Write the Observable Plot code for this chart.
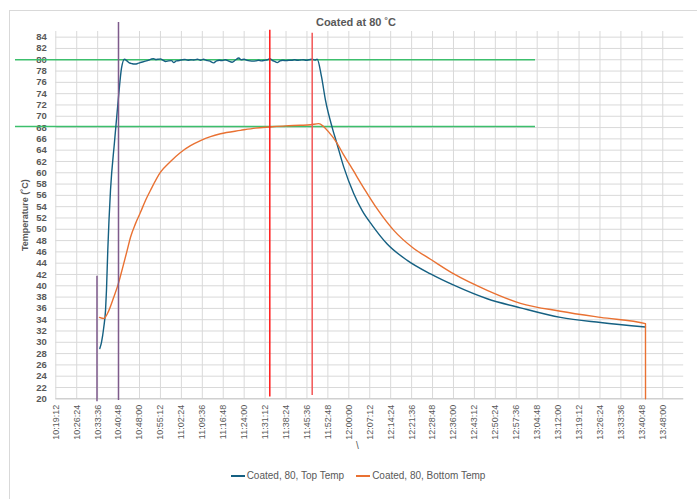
<!DOCTYPE html>
<html>
<head>
<meta charset="utf-8">
<script src="https://cdn.jsdelivr.net/npm/d3@7"></script>
<script src="https://cdn.jsdelivr.net/npm/@observablehq/plot@0.6"></script>
<style>
  html, body { margin: 0; padding: 0; background: #fff; }
  #chart { position: relative; width: 697px; height: 499px; overflow: hidden; font-family: "Liberation Sans", Arial, sans-serif; color: #595959; }
  #frame { position: absolute; left: 9px; top: 10px; width: 720px; height: 520px; border-left: 1px solid #d9d9d9; border-top: 1px solid #d9d9d9; }
  #title { position: absolute; left: 0; width: 712px; top: 16px; text-align: center; font-size: 11px; font-weight: bold; color: #595959; }
  #xlabel { position: absolute; left: 356px; top: 440px; font-size: 10px; color: #595959; }
  #legend { position: absolute; left: 0; top: 470px; width: 716px; text-align: center; font-size: 10px; color: #595959; font-family: "Liberation Sans Narrow", "Liberation Sans", Arial, sans-serif; }
  #legend span.item { display: inline-block; margin: 0 6px; }
  #legend span.sw { display: inline-block; width: 14px; height: 2px; vertical-align: middle; margin-right: 2px; }
  #plot { position: absolute; left: 0; top: 0; }
  #plot svg g[aria-label="y-axis tick label"] text { font-weight: bold; font-size: 9.5px; }
  #plot svg g[aria-label="y-axis label"] text { font-weight: bold; font-size: 9px; }
</style>
</head>
<body>
<div id="chart">
  <div id="frame"></div>
  <div id="plot"></div>
  <div id="title">Coated at 80 ˚C</div>
  <div id="xlabel">\</div>
  <div id="legend"></div>
</div>
<script>
// ---- Data ----
const seriesNames = ["Coated, 80, Top Temp", "Coated, 80, Bottom Temp"];
const seriesColors = ["#156082", "#E97132"];

const topTimes = [
  "10:34:20","10:34:55","10:35:43","10:36:18","10:36:38","10:37:05","10:38:01","10:39:24","10:40:46","10:41:48",
  "10:42:50","10:43:40","10:44:30","10:45:30","10:46:20","10:47:12","10:48:00","10:49:00","10:50:00","10:51:00",
  "10:52:00","10:52:49","10:53:40","10:54:30","10:55:13","10:56:00","10:57:00","10:58:00","10:59:00","10:59:48",
  "11:00:40","11:01:40","11:02:40","11:03:40","11:04:40","11:05:40","11:06:40","11:07:57","11:09:00","11:10:01",
  "11:11:00","11:12:00","11:13:33","11:14:30","11:15:30","11:16:30","11:17:30","11:18:30","11:19:53","11:21:00",
  "11:22:09","11:23:00","11:24:00","11:25:00","11:26:00","11:27:00","11:28:00","11:29:00","11:30:00","11:31:00",
  "11:32:00","11:32:49","11:33:40","11:34:30","11:35:22","11:36:20","11:37:20","11:38:20","11:39:20","11:40:20",
  "11:41:20","11:42:20","11:43:20","11:44:20","11:45:20","11:46:20","11:47:24","11:48:20","11:49:07",
  "11:50:36","11:51:59","11:54:17","11:55:46","11:58:16","12:01:43","12:04:36","12:08:03","12:13:12","12:20:05",
  "12:28:06","12:36:07","12:47:36","12:59:03","13:12:49","13:26:35","13:42:03"
];
const topValues = [
  28.9, 30.0, 32.7, 35.6, 39.2, 46.3, 56.9, 65.5, 73.4, 78.5,
  80.1, 79.8, 79.45, 79.3, 79.25, 79.3, 79.45, 79.6, 79.75, 79.9,
  80.1, 80.2, 80.05, 80.1, 80.15, 79.95, 79.7, 79.8, 79.85, 79.5,
  79.8, 79.85, 80.0, 80.05, 79.9, 80.0, 79.95, 80.1, 79.9, 80.1,
  79.9, 79.8, 79.45, 79.8, 79.9, 79.85, 80.0, 79.8, 79.55, 79.95,
  80.3, 80.0, 80.1, 79.9, 79.8, 79.75, 79.8, 79.9, 79.8, 79.9,
  80.0, 80.2, 79.9, 79.7, 79.5, 79.8, 79.9, 79.85, 79.9, 79.9,
  80.0, 79.9, 79.95, 80.0, 79.9, 80.0, 80.1, 79.95, 80.1,
  77.0, 72.8, 68.0, 65.4, 61.0, 56.3, 53.3, 50.7, 47.4, 44.5,
  42.1, 40.1, 37.7, 36.1, 34.4, 33.5, 32.7
];

const bottomTimes = [
  "10:34:14","10:35:43","10:37:26","10:39:09","10:40:40","10:42:15","10:43:46","10:44:54","10:46:37","10:48:20",
  "10:50:03","10:51:47","10:55:13","10:58:39","11:02:06","11:05:32","11:08:59","11:12:25","11:15:51","11:22:44",
  "11:27:54","11:32:43","11:38:13","11:43:23","11:46:49","11:49:40","11:51:17","11:53:07","11:55:46","11:58:10",
  "12:00:35","12:05:09","12:09:46","12:15:28","12:22:21","12:28:06","12:36:07","12:47:36","12:59:03","13:12:49",
  "13:26:35","13:42:03","13:42:04"
];
const bottomValues = [
  34.4, 34.2, 35.6, 38.0, 40.3, 43.3, 46.3, 48.6, 51.0, 53.0,
  55.1, 56.9, 60.1, 62.0, 63.6, 64.8, 65.7, 66.4, 66.9, 67.5,
  67.9, 68.1, 68.3, 68.4, 68.5, 68.7, 68.2, 67.2, 65.4, 63.2,
  61.2, 57.3, 53.6, 49.8, 46.6, 44.7, 42.1, 39.2, 36.9, 35.5,
  34.4, 33.3, 20
];

// x tick labels and y ticks
const xTickLabels = [
  "10:19:12","10:26:24","10:33:36","10:40:48","10:48:00","10:55:12","11:02:24","11:09:36","11:16:48","11:24:00",
  "11:31:12","11:38:24","11:45:36","11:52:48","12:00:00","12:07:12","12:14:24","12:21:36","12:28:48","12:36:00",
  "12:43:12","12:50:24","12:57:36","13:04:48","13:12:00","13:19:12","13:26:24","13:33:36","13:40:48","13:48:00"
];
const xDomain = ["10:19:12", "13:55:12"];
const yTicks = [20,22,24,26,28,30,32,34,36,38,40,42,44,46,48,50,52,54,56,58,60,62,64,66,68,70,72,74,76,78,80,82,84];
const yDomain = [20, 85];

// Annotation shapes drawn on the chart
const hLineLevels = [80, 68.2];
const hLineFrom = "10:05:20";
const hLineTo = "13:04:13";
const vLineTimes = ["10:33:22", "10:40:46", "11:32:49", "11:47:24"];
const vLineLow = [19.5, 19.7, 20.3, 20.6];
const vLineHigh = [41.7, 86.6, 85.2, 84.7];
const vLineColors = ["#7e5a8c", "#7e5a8c", "#ff1a1a", "#f25555"];

// ---- Build ----
const T = s => new Date(`2024-01-01T${s}Z`);
const fmt = d3.utcFormat("%H:%M:%S");
const topData = topTimes.map((t, i) => ({t: T(t), v: topValues[i]}));
const bottomData = bottomTimes.map((t, i) => ({t: T(t), v: bottomValues[i]}));
const xTicks = xTickLabels.map(T);
const hLines = hLineLevels.map(v => ({v, x1: T(hLineFrom), x2: T(hLineTo)}));
const vLines = vLineTimes.map((t, i) => ({t: T(t), y1: vLineLow[i], y2: vLineHigh[i], c: vLineColors[i]}));

const chart = Plot.plot({
  width: 697,
  height: 460,
  marginLeft: 55.3,
  marginRight: 13.8,
  marginTop: 31,
  marginBottom: 61.7,
  style: {fontFamily: "'Liberation Sans', Arial, sans-serif", fontSize: "9px", color: "#595959", background: "transparent", overflow: "visible"},
  x: {type: "utc", domain: xDomain.map(T)},
  y: {domain: yDomain},
  marks: [
    Plot.gridX(xTicks, {stroke: "#d9d9d9", strokeOpacity: 1}),
    Plot.gridY(yTicks, {stroke: "#d9d9d9", strokeOpacity: 1}),
    Plot.ruleY([yDomain[0]], {stroke: "#c8c8c8"}),
    Plot.axisX(xTicks, {tickRotate: -90, tickSize: 0, tickPadding: 6, tickFormat: fmt, label: null, fill: "#595959"}),
    Plot.axisY(yTicks, {tickSize: 0, tickPadding: 9, label: "Temperature (˚C)", labelAnchor: "center", labelArrow: "none", labelOffset: 34, fill: "#595959"}),
    Plot.ruleY(hLines, {y: "v", x1: "x1", x2: "x2", stroke: "#3cbf6c", strokeWidth: 1.6}),
    Plot.line(topData, {x: "t", y: "v", stroke: seriesColors[0], strokeWidth: 1.4, curve: "monotone-x"}),
    Plot.line(bottomData, {x: "t", y: "v", stroke: seriesColors[1], strokeWidth: 1.4, curve: "monotone-x"}),
    Plot.ruleX(vLines, {x: "t", y1: "y1", y2: "y2", stroke: "c", strokeWidth: 1.5})
  ]
});
document.getElementById("plot").appendChild(chart);

const legend = document.getElementById("legend");
seriesNames.forEach((n, i) => {
  const item = document.createElement("span");
  item.className = "item";
  const sw = document.createElement("span");
  sw.className = "sw";
  sw.style.background = seriesColors[i];
  item.appendChild(sw);
  item.appendChild(document.createTextNode(n));
  legend.appendChild(item);
});
</script>
</body>
</html>
